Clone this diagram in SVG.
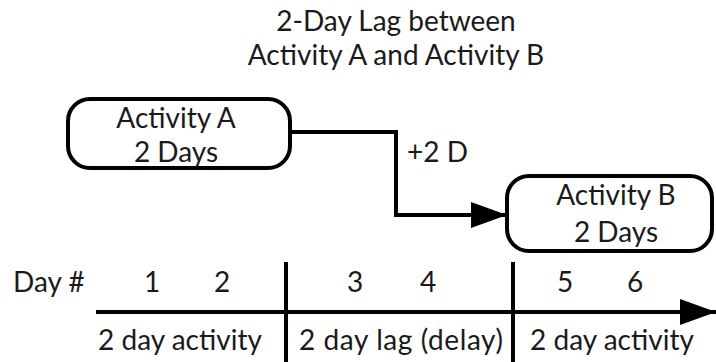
<svg xmlns="http://www.w3.org/2000/svg" width="716" height="362" viewBox="0 0 716 362">
  <style>
    text { font-family: Lato, "Open Sans", "Liberation Sans", sans-serif; fill: #1a1a1a; font-size: 28px; }
    .mid { text-anchor: middle; }
    .box { fill: #ffffff; stroke: #000000; stroke-width: 4; }
    .line { fill: none; stroke: #000000; stroke-width: 4; }
  </style>
  <defs>
    <marker id="head" viewBox="0 0 36 26" refX="36" refY="13" markerWidth="36" markerHeight="26" orient="auto" markerUnits="userSpaceOnUse">
      <path d="M0,0 L36,13 L0,26 Z" fill="#000000"/>
    </marker>
  </defs>

  <!-- title -->
  <g id="title">
    <text class="mid" x="396" y="31">2-Day Lag between</text>
    <text class="mid" x="396" y="65">Activity A and Activity B</text>
  </g>

  <!-- connectors -->
  <g id="connectors">
    <path class="line" d="M290,132 H396 V215 H507" marker-end="url(#head)"/>
    <text x="407" y="162">+2 D</text>
  </g>

  <!-- activity nodes -->
  <g id="activity-a">
    <rect class="box" x="68" y="99" width="222" height="69" rx="22" ry="22"/>
    <text class="mid" x="176" y="128">Activity A</text>
    <text class="mid" x="176" y="162">2 Days</text>
  </g>
  <g id="activity-b">
    <rect class="box" x="507" y="176" width="205" height="75" rx="22" ry="22"/>
    <text class="mid" x="616" y="205">Activity B</text>
    <text class="mid" x="616" y="242">2 Days</text>
  </g>

  <!-- timeline -->
  <g id="timeline">
    <path class="line" d="M96,312 H716" marker-end="url(#head)"/>
    <line class="line" x1="286" y1="262" x2="286" y2="362"/>
    <line class="line" x1="513" y1="262" x2="513" y2="362"/>
    <text x="13" y="292">Day #</text>
    <text class="mid" x="152" y="292">1</text>
    <text class="mid" x="222" y="292">2</text>
    <text class="mid" x="355" y="292">3</text>
    <text class="mid" x="428" y="292">4</text>
    <text class="mid" x="565" y="292">5</text>
    <text class="mid" x="635" y="292">6</text>
    <text class="mid" x="180" y="350">2 day activity</text>
    <text class="mid" x="401" y="350" textLength="204" lengthAdjust="spacing">2 day lag (delay)</text>
    <text class="mid" x="612" y="350">2 day activity</text>
  </g>
</svg>
